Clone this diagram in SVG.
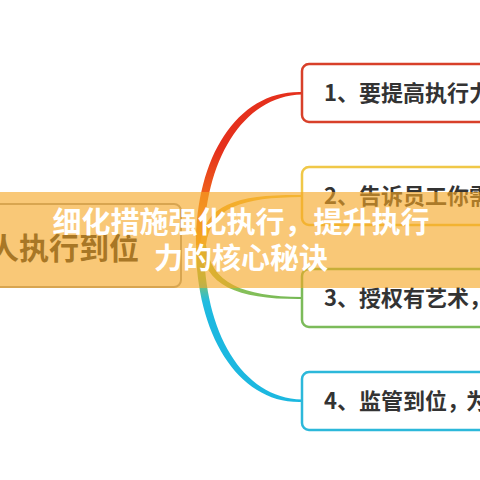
<svg xmlns="http://www.w3.org/2000/svg" width="480" height="480" viewBox="0 0 480 480">
<style>
.box{fill:#ffffff;stroke-width:2.5}
.t{font-family:"Noto Sans CJK SC","Noto Sans",sans-serif;font-size:22px;font-weight:bold;fill:#333333}
.bt{font-family:"Noto Sans CJK SC","Noto Sans",sans-serif;font-size:29px;font-weight:bold;fill:#ffffff;text-anchor:middle}
</style>
<defs>
<linearGradient id="gRed" gradientUnits="userSpaceOnUse" x1="0" y1="245" x2="0" y2="150">
<stop offset="0" stop-color="#f2a51a"/><stop offset="0.45" stop-color="#f06a1c"/><stop offset="1" stop-color="#e5301c"/>
</linearGradient>
<linearGradient id="gCyan" gradientUnits="userSpaceOnUse" x1="0" y1="245" x2="0" y2="320">
<stop offset="0" stop-color="#e8b830"/><stop offset="0.45" stop-color="#8cc35a"/><stop offset="0.75" stop-color="#22bce0"/><stop offset="1" stop-color="#1cb8e0"/>
</linearGradient>
<linearGradient id="gYel" gradientUnits="userSpaceOnUse" x1="200" y1="0" x2="302" y2="0">
<stop offset="0" stop-color="#f0b030"/><stop offset="1" stop-color="#f2cc4a"/>
</linearGradient>
<linearGradient id="gGrn" gradientUnits="userSpaceOnUse" x1="200" y1="0" x2="302" y2="0">
<stop offset="0" stop-color="#c8c040"/><stop offset="0.4" stop-color="#86c05a"/><stop offset="1" stop-color="#74b854"/>
</linearGradient>
</defs>
<rect width="480" height="480" fill="#ffffff"/>
<g id="connectors">
<path d="M196,245 C196,156 238,90 302,92 L302,94.5 C242,96 204,162 204,245 Z" fill="url(#gRed)"/>
<path d="M196,245 C196,334 238,404 302,402 L302,399.5 C242,398 204,332 204,245 Z" fill="url(#gCyan)"/>
<path d="M200,245 C205,203 238,194.5 302,195 L302,197 C242,197.5 211,207 206,245 Z" fill="url(#gYel)"/>
<path d="M200,245 C205,287 238,299.5 302,299 L302,297 C242,296.5 211,283 206,245 Z" fill="url(#gGrn)"/>
</g>
<g id="center">
<rect x="-20" y="204" width="201" height="83" rx="7" fill="#ffffff" stroke="#a8a49a" stroke-width="2"/>
<text x="-11" y="259" font-family="'Noto Sans CJK SC','Noto Sans',sans-serif" font-size="30" font-weight="bold" fill="#2a2a2a">人执行到位</text>
</g>
<g id="n1">
<rect class="box" x="302" y="64" width="200" height="58" rx="7" stroke="#d8402a"/>
<text class="t" x="324" y="101">1、要提高执行力</text>
</g>
<g id="n2">
<rect class="box" x="302" y="167" width="200" height="58" rx="7" stroke="#f0c848"/>
<text class="t" x="324" y="204">2、告诉员工你需</text>
</g>
<g id="n3">
<rect class="box" x="302" y="269" width="200" height="58" rx="7" stroke="#7cbb5a"/>
<text class="t" x="324" y="306">3、授权有艺术，</text>
</g>
<g id="n4">
<rect class="box" x="302" y="372" width="200" height="58" rx="7" stroke="#2cb8da"/>
<text class="t" x="324" y="409">4、监管到位，<tspan dx="-3">为</tspan></text>
</g>
<g id="banner">
<rect x="0" y="192" width="480" height="96" fill="#f5a623" fill-opacity="0.62"/>
<text class="bt" x="241" y="233">细化措施强化执行，提升执行</text>
<text class="bt" x="241" y="269">力的核心秘诀</text>
</g>
</svg>
